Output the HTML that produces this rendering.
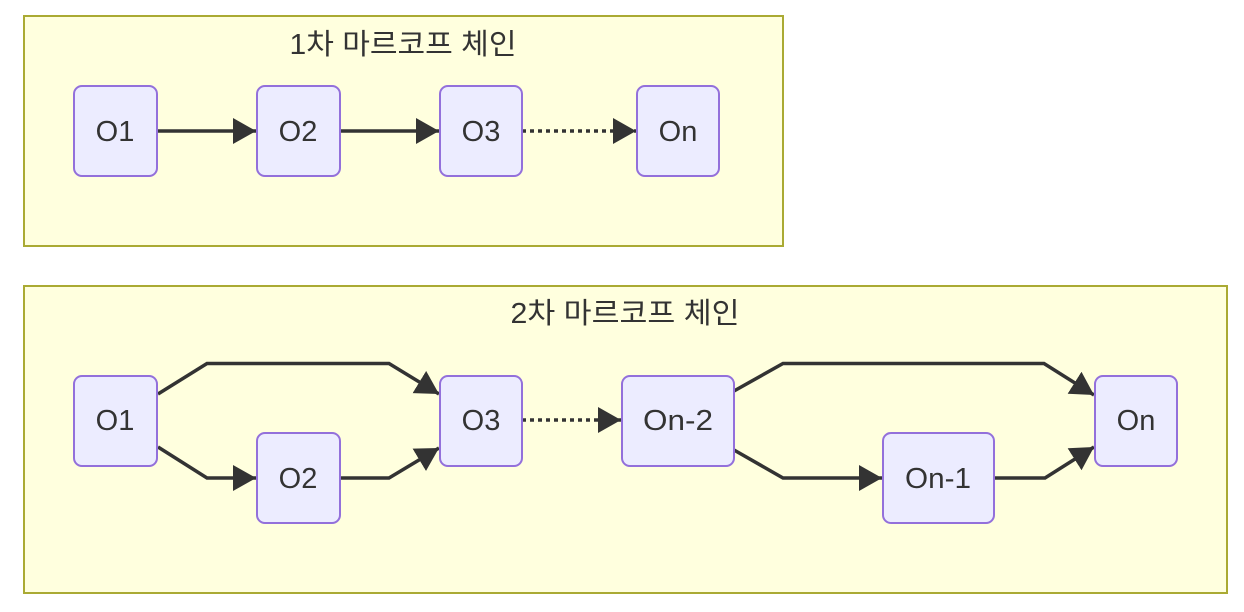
<!DOCTYPE html>
<html><head><meta charset="utf-8"><style>
html,body{margin:0;padding:0;background:#fff}
svg{display:block}
text{font-family:"Liberation Sans","Noto Sans CJK KR",sans-serif;fill:#333}
</style></head><body>
<svg width="1244" height="612" viewBox="0 0 1244 612" xmlns="http://www.w3.org/2000/svg">
<defs>
<marker id="a" markerUnits="userSpaceOnUse" markerWidth="26" markerHeight="28" refX="23" refY="13" orient="auto">
<path d="M0,0 L23,13 L0,26 Z" fill="#333"/>
</marker>
</defs>
<rect x="24" y="16" width="759" height="230" fill="#ffffde" stroke="#aaaa33" stroke-width="2"/>
<rect x="24" y="286" width="1203" height="307" fill="#ffffde" stroke="#aaaa33" stroke-width="2"/>
<text x="403" y="54" font-size="29" text-anchor="middle" textLength="227" lengthAdjust="spacingAndGlyphs">1차 마르코프 체인</text>
<text x="625" y="323" font-size="29" text-anchor="middle" textLength="229" lengthAdjust="spacingAndGlyphs">2차 마르코프 체인</text>

<g fill="none" stroke="#333" stroke-width="3.5">
<line x1="157" y1="131" x2="256" y2="131" marker-end="url(#a)"/>
<line x1="340" y1="131" x2="439" y2="131" marker-end="url(#a)"/>
<line x1="522" y1="131" x2="636" y2="131" stroke-dasharray="4,4" marker-end="url(#a)"/>
<polyline points="158,394 207,363.5 389,363.5 439,394" marker-end="url(#a)"/>
<polyline points="158,447 207,478 256,478" marker-end="url(#a)"/>
<polyline points="340,478 389,478 439,448" marker-end="url(#a)"/>
<line x1="522" y1="420" x2="621" y2="420" stroke-dasharray="4,4" marker-end="url(#a)"/>
<polyline points="734,391 783,363.5 1044,363.5 1094,395" marker-end="url(#a)"/>
<polyline points="734,450 783,478 882,478" marker-end="url(#a)"/>
<polyline points="994,478 1045,478 1094,447" marker-end="url(#a)"/>
</g>

<g fill="#ececff" stroke="#9370db" stroke-width="2">
<rect x="74" y="86" width="83" height="90" rx="8"/>
<rect x="257" y="86" width="83" height="90" rx="8"/>
<rect x="440" y="86" width="82" height="90" rx="8"/>
<rect x="637" y="86" width="82" height="90" rx="8"/>
<rect x="74" y="376" width="83" height="90" rx="8"/>
<rect x="257" y="433" width="83" height="90" rx="8"/>
<rect x="440" y="376" width="82" height="90" rx="8"/>
<rect x="622" y="376" width="112" height="90" rx="8"/>
<rect x="883" y="433" width="111" height="90" rx="8"/>
<rect x="1095" y="376" width="82" height="90" rx="8"/>
</g>
<g font-size="29" text-anchor="middle">
<text x="115" y="141">O1</text>
<text x="298" y="141">O2</text>
<text x="481" y="141">O3</text>
<text x="678" y="141">On</text>
<text x="115" y="430">O1</text>
<text x="298" y="488">O2</text>
<text x="481" y="430">O3</text>
<text x="678" y="430" textLength="70" lengthAdjust="spacingAndGlyphs">On-2</text>
<text x="938" y="488" textLength="66" lengthAdjust="spacingAndGlyphs">On-1</text>
<text x="1136" y="430">On</text>
</g>
</svg>
</body></html>
